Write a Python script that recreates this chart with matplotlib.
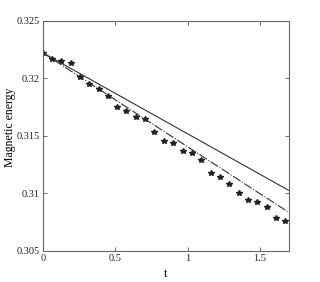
import numpy as np
import matplotlib
matplotlib.use('Agg')
import matplotlib.pyplot as plt

plt.rcParams['font.family'] = ['Liberation Serif', 'DejaVu Serif']

# sampled points (markers)
t_pts = [0.0, 0.064, 0.124, 0.193, 0.255, 0.319, 0.386, 0.450, 0.513,
         0.577, 0.642, 0.706, 0.769, 0.834, 0.898, 0.965, 1.029, 1.091,
         1.158, 1.223, 1.287, 1.352, 1.416, 1.481, 1.546, 1.610, 1.675]
e_pts = [0.3222, 0.32165, 0.3215, 0.3213, 0.32014, 0.31948, 0.31907,
         0.31849, 0.31748, 0.31718, 0.31661, 0.31644, 0.31536, 0.31455,
         0.31441, 0.31371, 0.31354, 0.31286, 0.3118, 0.3114, 0.31079,
         0.31006, 0.30943, 0.30923, 0.3088, 0.30789, 0.3076]

# solid curve
t_solid = [0.0, 1.7]
e_solid = [0.3222, 0.31025]

# dash-dot curve
t_dash = [0.0, 1.7]
e_dash = [0.3222, 0.30834]

fig = plt.figure(figsize=(3.2, 2.82), dpi=100)
ax = fig.add_axes([0.134, 0.110, 0.769, 0.817])

ax.plot(t_solid, e_solid, color='#333333', lw=0.8, ls='-')
ax.plot(t_dash, e_dash, color='#333333', lw=0.8, ls=(0, (8, 1.5, 1, 1.5)))
ax.plot(t_pts, e_pts, ls='none', marker='*', ms=3.8, color='#222222')

ax.set_xlim(0, 1.7)
ax.set_ylim(0.305, 0.325)
ax.set_xticks([0, 0.5, 1, 1.5])
ax.set_xticklabels(['0', '0.5', '1', '1.5'])
ax.set_yticks([0.305, 0.31, 0.315, 0.32, 0.325])
ax.set_yticklabels(['0.305', '0.31', '0.315', '0.32', '0.325'])
ax.tick_params(direction='in', length=3, width=0.6, top=True, right=True,
               labelsize=7.5, colors='#555555', labelcolor='#222222', pad=2)
for s in ax.spines.values():
    s.set_color('#666666')
    s.set_linewidth(0.8)

ax.set_xlabel('t', fontsize=8.5, labelpad=4)
ax.set_ylabel('Magnetic energy', fontsize=8.5)
ax.yaxis.set_label_coords(-0.11, 0.535)

fig.savefig('out.png', dpi=100)
